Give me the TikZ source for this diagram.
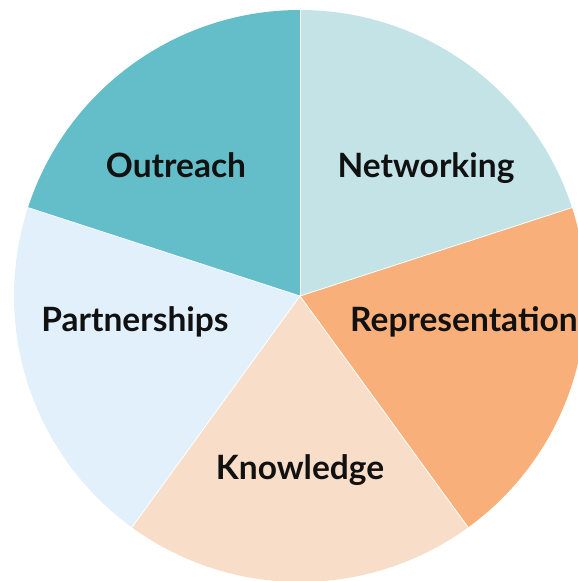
\documentclass[tikz,border=0pt]{standalone}
\usepackage{fontspec}
\setmainfont{Lato}
\definecolor{cNet}{HTML}{C3E3E7}
\definecolor{cRep}{HTML}{F8AF79}
\definecolor{cKno}{HTML}{F8DDC8}
\definecolor{cPar}{HTML}{E1F0FB}
\definecolor{cOut}{HTML}{63BEC9}
\definecolor{cTxt}{HTML}{111111}
\begin{document}
\begin{tikzpicture}[x=1pt,y=1pt,
  slice/.style={draw=white,line width=0.8pt,line join=round},
  lbl/.style={font=\fontsize{33.5}{37}\selectfont\bfseries,text=cTxt,inner sep=0pt,anchor=base}]
\useasboundingbox (0,0) rectangle (578,581);
\coordinate (c) at (300,285);
\def\R{286}
\fill[cNet] (c) -- ++(18:\R) arc (18:90:\R) -- cycle;
\fill[cRep] (c) -- ++(-54:\R) arc (-54:18:\R) -- cycle;
\fill[cKno] (c) -- ++(-126:\R) arc (-126:-54:\R) -- cycle;
\fill[cPar] (c) -- ++(162:\R) arc (162:234:\R) -- cycle;
\fill[cOut] (c) -- ++(90:\R) arc (90:162:\R) -- cycle;
\foreach \a in {90,18,-54,-126,162} \draw[slice] (c) -- ++(\a:\R);
\node[lbl] (net) at (426,403) {Networking};
\node[lbl,anchor=base west] (rep) at (350,249) {Representation};
\node[lbl] (kno) at (300,101) {Knowledge};
\node[lbl] (par) at (135,249) {Partnerships};
\node[lbl] (out) at (176,403) {Outreach};
\end{tikzpicture}
\end{document}
